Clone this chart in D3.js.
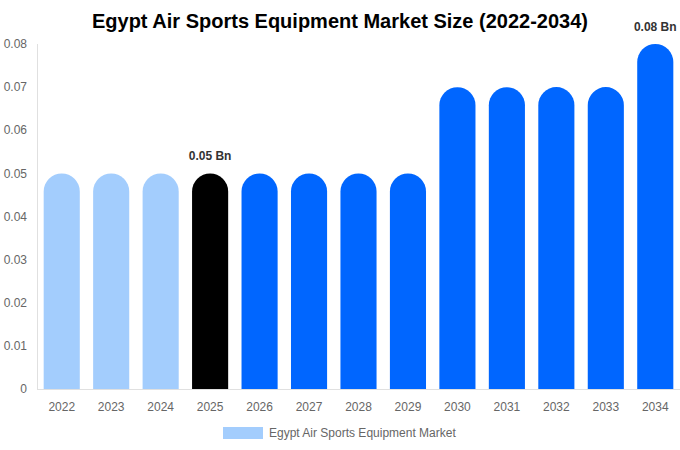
<!DOCTYPE html>
<html>
<head>
<meta charset="utf-8">
<script src="https://cdn.jsdelivr.net/npm/d3@7"></script>
<style>
  body { margin: 0; background: #fff; }
  svg { font-family: "Liberation Sans", Arial, sans-serif; }
</style>
</head>
<body>
<svg width="680" height="450"></svg>
<script>
var years = ["2022", "2023", "2024", "2025", "2026", "2027", "2028", "2029", "2030", "2031", "2032", "2033", "2034"];
var values = [0.05, 0.05, 0.05, 0.05, 0.05, 0.05, 0.05, 0.05, 0.07, 0.07, 0.07, 0.07, 0.08];
var yTicks = [0, 0.01, 0.02, 0.03, 0.04, 0.05, 0.06, 0.07, 0.08];
var labelled = ["2025", "2034"];

var svg = d3.select("svg"),
    width = +svg.attr("width"),
    height = +svg.attr("height");

var plotLeft = 37, plotRight = 680, plotTop = 44, plotBottom = 389;

var x = d3.scaleBand().domain(years).range([plotLeft, plotRight]).paddingInner(0.27).paddingOuter(0.135);
var y = d3.scaleLinear().domain([0, 0.08]).range([plotBottom, plotTop]);

function barColor(yr) {
  if (+yr < 2025) return "#a3cdfd";
  if (+yr === 2025) return "#000000";
  return "#0066ff";
}

svg.append("text")
    .attr("x", width / 2)
    .attr("y", 28)
    .attr("text-anchor", "middle")
    .attr("font-size", 20)
    .attr("font-weight", "bold")
    .attr("fill", "#000")
    .text("Egypt Air Sports Equipment Market Size (2022-2034)");

// axes lines
svg.append("line")
    .attr("x1", plotLeft + 0.5).attr("x2", plotLeft + 0.5)
    .attr("y1", plotTop).attr("y2", plotBottom)
    .attr("stroke", "#e0e0e0");
svg.append("line")
    .attr("x1", plotLeft).attr("x2", plotRight)
    .attr("y1", plotBottom + 0.5).attr("y2", plotBottom + 0.5)
    .attr("stroke", "#e0e0e0");

svg.append("g").selectAll("text")
    .data(yTicks)
    .enter().append("text")
      .attr("x", 27)
      .attr("y", function(d) { return y(d); })
      .attr("dy", "0.35em")
      .attr("text-anchor", "end")
      .attr("font-size", 12)
      .attr("fill", "#666")
      .text(function(d) { return d === 0 ? "0" : d.toFixed(2); });

svg.append("g").selectAll("text")
    .data(years)
    .enter().append("text")
      .attr("x", function(d) { return x(d) + x.bandwidth() / 2; })
      .attr("y", 411)
      .attr("text-anchor", "middle")
      .attr("font-size", 12)
      .attr("fill", "#666")
      .text(function(d) { return d; });

// bars with round tops
var data = years.map(function(yr, i) { return { year: yr, value: values[i] }; });

svg.append("g").selectAll("path")
    .data(data)
    .enter().append("path")
      .attr("fill", function(d) { return barColor(d.year); })
      .attr("d", function(d) {
        var x0 = x(d.year), w = x.bandwidth(), r = w / 2;
        var yt = y(d.value);
        return "M" + x0 + "," + plotBottom +
               "V" + (yt + r) +
               "A" + r + "," + r + " 0 0 1 " + (x0 + w) + "," + (yt + r) +
               "V" + plotBottom + "Z";
      });

svg.append("g").selectAll("text")
    .data(data.filter(function(d) { return labelled.indexOf(d.year) >= 0; }))
    .enter().append("text")
      .attr("x", function(d) { return x(d.year) + x.bandwidth() / 2; })
      .attr("y", function(d) { return y(d.value) - 13; })
      .attr("text-anchor", "middle")
      .attr("font-size", 12)
      .attr("font-weight", "bold")
      .attr("fill", "#333")
      .text(function(d) { return d.value.toFixed(2) + " Bn"; });

// legend
svg.append("rect")
    .attr("x", 223).attr("y", 427)
    .attr("width", 40).attr("height", 12)
    .attr("fill", "#a3cdfd");
svg.append("text")
    .attr("x", 269).attr("y", 437)
    .attr("font-size", 12)
    .attr("fill", "#666")
    .text("Egypt Air Sports Equipment Market");
</script>
</body>
</html>
